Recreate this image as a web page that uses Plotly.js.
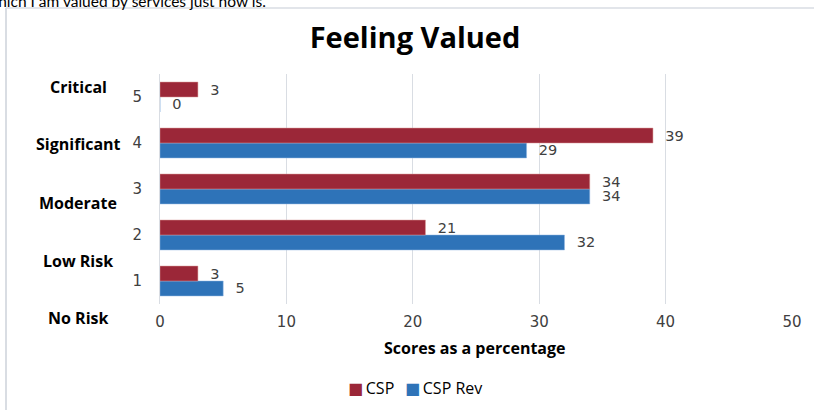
<!DOCTYPE html>
<html>
<head>
<meta charset="utf-8">
<script src="https://cdn.plot.ly/plotly-3.0.1.min.js"></script>
<style>html,body{margin:0;padding:0;background:#fff;}#chart{width:814px;height:410px;}</style>
</head>
<body>
<div id="chart"></div>
<script>
var categories = [1, 2, 3, 4, 5];
var cspValues = [3, 21, 34, 39, 3];
var cspRevValues = [5, 32, 34, 29, 0];
var xTicks = [0, 10, 20, 30, 40, 50];
var riskLabels = ["No Risk", "Low Risk", "Moderate", "Significant", "Critical"];
var seriesNames = ["CSP", "CSP Rev"];
var seriesColors = ["#9B2738", "#2E73B8"];

function py(p) { return (304 - p) / 230; }
function px(p) { return (p - 160) / 632; }
var riskLabelY = [318, 261, 203, 144, 87];

var tickFont = {family: "DejaVu Sans", size: 15, color: "#404040"};
var labelFont = {family: "DejaVu Sans", size: 14.5, color: "#404040"};
var pad = "\u00a0\u00a0";

var traces = [
  {type: "bar", orientation: "h", name: seriesNames[1], y: categories, x: cspRevValues,
   marker: {color: seriesColors[1], line: {color: "#8EB4E3", width: 0.5}},
   text: cspRevValues.map(function (v) { return pad + v; }), textposition: "outside", cliponaxis: false,
   constraintext: "none", textfont: labelFont, hoverinfo: "x+y"},
  {type: "bar", orientation: "h", name: seriesNames[0], y: categories, x: cspValues,
   marker: {color: seriesColors[0], line: {color: "#D99694", width: 0.5}},
   text: cspValues.map(function (v) { return pad + v; }), textposition: "outside", cliponaxis: false,
   constraintext: "none", textfont: labelFont, hoverinfo: "x+y"}
];

var annotations = riskLabels.map(function (t, i) {
  return {text: "<b>" + t + "</b>", xref: "paper", yref: "paper", x: px(78), y: py(riskLabelY[i]),
          xanchor: "center", yanchor: "middle", showarrow: false,
          font: {family: "Open Sans", size: 16, color: "#000"}};
});
annotations.push({text: "<b>Scores as a percentage</b>", xref: "paper", yref: "paper",
  x: px(475), y: py(348), xanchor: "center", yanchor: "middle", showarrow: false,
  font: {family: "Open Sans", size: 16, color: "#000"}});
annotations.push({text: "which I am valued by services just now is.", xref: "paper", yref: "paper",
  x: px(268), y: py(1), xanchor: "right", yanchor: "middle", showarrow: false,
  font: {family: "Lato", size: 15.5, color: "#000"}});
// legend entries
function legendText(i) {
  return "<span style='color:" + seriesColors[i] + ";font-family:DejaVu Sans;font-size:16px'>\u25A0</span>\u2009" + seriesNames[i];
}
annotations.push({text: legendText(0),
  xref: "paper", yref: "paper", x: px(346), y: py(388), xanchor: "left", yanchor: "middle", showarrow: false,
  font: {family: "Open Sans", size: 16, color: "#000"}});
annotations.push({text: legendText(1),
  xref: "paper", yref: "paper", x: px(403), y: py(388), xanchor: "left", yanchor: "middle", showarrow: false,
  font: {family: "Open Sans", size: 16, color: "#000"}});

var layout = {
  width: 814, height: 410,
  margin: {l: 160, r: 22, t: 74, b: 106},
  paper_bgcolor: "#fff", plot_bgcolor: "#fff",
  barmode: "group", bargap: 0.35, bargroupgap: 0,
  title: {text: "<b>Feeling Valued</b>", x: 415 / 814, xanchor: "center", y: 1 - 38 / 410, yanchor: "middle",
          font: {family: "Open Sans", size: 29, color: "#000"}},
  xaxis: {range: [0, 50], tickvals: xTicks, ticktext: xTicks.map(String),
          showgrid: true, gridcolor: "#D9DDE3", gridwidth: 1, zeroline: false,
          showline: false, ticks: "", ticklabelstandoff: 7,
          tickfont: tickFont, fixedrange: true},
  yaxis: {range: [0.5, 5.5], tickvals: categories, ticktext: categories.map(String),
          showgrid: false, zeroline: false, showline: true, linecolor: "#D9DDE3", linewidth: 1,
          ticks: "", ticklabelstandoff: 14, tickfont: tickFont, fixedrange: true},
  showlegend: false,
  annotations: annotations,
  shapes: [
    {type: "line", xref: "paper", yref: "paper", x0: px(6), x1: px(6),
     y0: py(8), y1: py(412), line: {color: "#D9DDE3", width: 2}},
    {type: "line", xref: "paper", yref: "paper", x0: px(6), x1: px(816),
     y0: py(8), y1: py(8), line: {color: "#D9DDE3", width: 1.5}}
  ]
};

Plotly.newPlot("chart", traces, layout, {displayModeBar: false, staticPlot: true});
</script>
</body>
</html>
